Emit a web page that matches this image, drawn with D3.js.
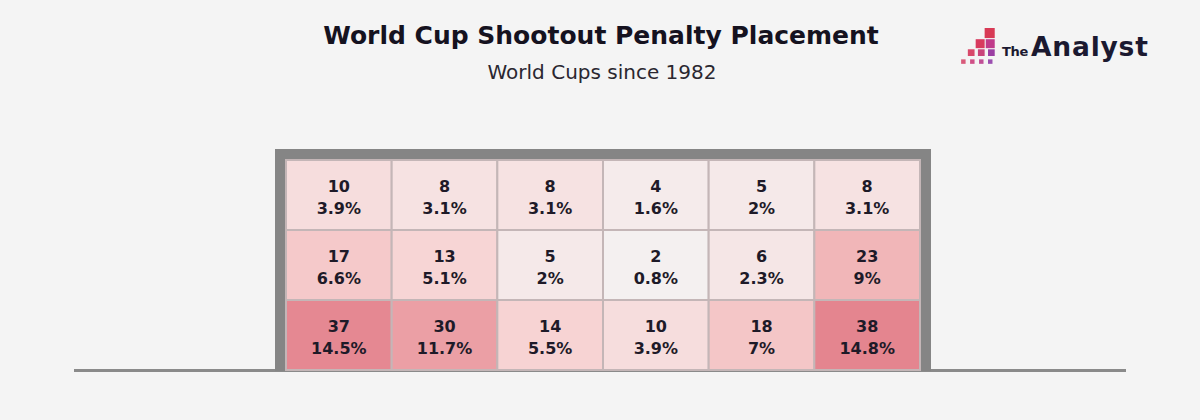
<!DOCTYPE html>
<html><head><meta charset="utf-8">
<script src="https://cdn.jsdelivr.net/npm/d3@7"></script>
<style>
html,body{margin:0;padding:0;background:#f4f4f4;}
svg{display:block;}
</style></head><body>
<svg id="chart" width="1200" height="420"></svg>
<script>
const rows = ["Top", "Middle", "Bottom"];
const columns = ["C1", "C2", "C3", "C4", "C5", "C6"];
const counts = [
  [10, 8, 8, 4, 5, 8],
  [17, 13, 5, 2, 6, 23],
  [37, 30, 14, 10, 18, 38]
];
const pctLabels = [
  ["3.9%", "3.1%", "3.1%", "1.6%", "2%", "3.1%"],
  ["6.6%", "5.1%", "2%", "0.8%", "2.3%", "9%"],
  ["14.5%", "11.7%", "5.5%", "3.9%", "7%", "14.8%"]
];
const title = "World Cup Shootout Penalty Placement";
const subtitle = "World Cups since 1982";

const svg = d3.select("#chart");
svg.append("rect").attr("width",1200).attr("height",420).attr("fill","#f4f4f4");

// Titles
svg.append("text").attr("x",601).attr("y",44).attr("text-anchor","middle")
  .attr("font-family","DejaVu Sans").attr("font-weight","bold").attr("font-size",25)
  .attr("fill","#15121f").text(title);
svg.append("text").attr("x",602).attr("y",79).attr("text-anchor","middle")
  .attr("font-family","DejaVu Sans").attr("font-size",20)
  .attr("fill","#2a2730").text(subtitle);

// Logo
const logo = svg.append("g").attr("transform","translate(960,28) scale(1.12)");
const sq = [
  {x:22,y:0,s:9,c:"#d83a55"},
  {x:14,y:10,s:8,c:"#d83a5e"},{x:23,y:10,s:8,c:"#c03a8a"},
  {x:7,y:19,s:6,c:"#d8486a"},{x:16,y:19,s:6,c:"#c9447a"},{x:25,y:19,s:6,c:"#9b3fa3"},
  {x:1,y:28,s:4,c:"#d85a7a"},{x:9,y:28,s:4,c:"#cf4f86"},{x:17,y:28,s:4,c:"#c04f96"},{x:25,y:28,s:4,c:"#9b4fb0"}
];
logo.selectAll("rect").data(sq).join("rect")
  .attr("x",d=>d.x).attr("y",d=>d.y).attr("width",d=>d.s).attr("height",d=>d.s).attr("fill",d=>d.c);
svg.append("text").attr("x",1002).attr("y",56).attr("font-size",13).attr("letter-spacing","-0.3")
  .attr("font-family","DejaVu Sans").attr("font-weight","bold").attr("fill","#1b1930").text("The");
svg.append("text").attr("x",1031).attr("y",56).attr("font-size",26.5).attr("letter-spacing","0.8")
  .attr("font-family","DejaVu Sans").attr("font-weight","bold").attr("fill","#1b1930").text("Analyst");

// Goal geometry
const gx0 = 286, gx1 = 920, gy0 = 160, gy1 = 370, post = 11;
const x = d3.scaleBand().domain(columns).range([gx0, gx1]);
const y = d3.scaleBand().domain(rows).range([gy0, gy1]);
const color = d3.scaleLinear().domain([2, 14, 23, 38])
  .range(["#f4f0f0", "#f7d3d3", "#f1b6b8", "#e4858f"]).clamp(true);

// ground line
svg.append("rect").attr("x",74).attr("y",369).attr("width",1052).attr("height",3).attr("fill","#8a8a8a");
// frame
svg.append("rect").attr("x",gx0-post).attr("y",gy0-post).attr("width",(gx1-gx0)+2*post).attr("height",(gy1-gy0)+post+1)
  .attr("fill","#858585");

const cells = [];
rows.forEach((r,i)=>columns.forEach((c,j)=>cells.push({r,c,v:counts[i][j],p:pctLabels[i][j]})));

const g = svg.append("g");
g.selectAll("rect.cell").data(cells).join("rect").attr("class","cell")
  .attr("x",d=>x(d.c)).attr("y",d=>y(d.r))
  .attr("width",x.bandwidth()).attr("height",y.bandwidth())
  .attr("fill",d=>color(d.v)).attr("stroke","#c4b6b7").attr("stroke-width",2);

const lab = g.selectAll("g.lab").data(cells).join("g").attr("class","lab")
  .attr("transform",d=>`translate(${x(d.c)+x.bandwidth()/2},${y(d.r)+y.bandwidth()/2})`);
lab.append("text").attr("y",-3).attr("text-anchor","middle")
  .attr("font-family","DejaVu Sans").attr("font-weight","bold").attr("font-size",16)
  .attr("fill","#1e1a28").text(d=>d.v);
lab.append("text").attr("y",19).attr("text-anchor","middle")
  .attr("font-family","DejaVu Sans").attr("font-weight","bold").attr("font-size",16)
  .attr("fill","#1e1a28").text(d=>d.p);
</script>
</body></html>
